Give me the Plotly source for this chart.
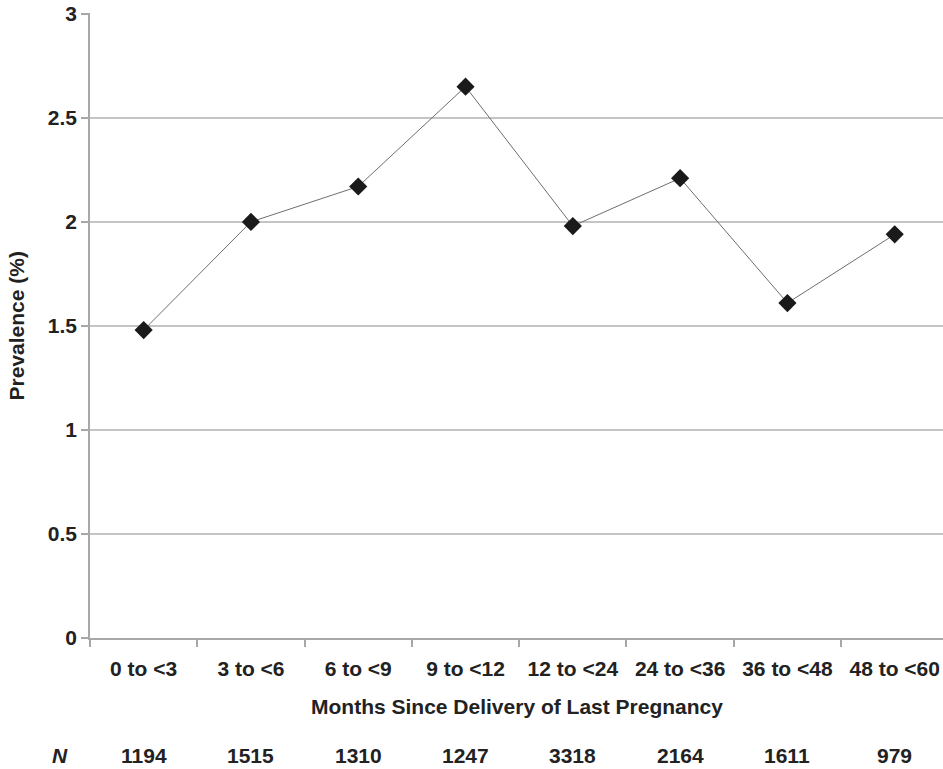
import plotly.graph_objects as go

categories = ["0 to <3", "3 to <6", "6 to <9", "9 to <12", "12 to <24", "24 to <36", "36 to <48", "48 to <60"]
prevalence = [1.48, 2.00, 2.17, 2.65, 1.98, 2.21, 1.61, 1.94]
n_values = [1194, 1515, 1310, 1247, 3318, 2164, 1611, 979]
y_ticks = [0, 0.5, 1, 1.5, 2, 2.5, 3]
y_tick_text = ["0", "0.5", "1", "1.5", "2", "2.5", "3"]

FONT = "Liberation Sans, Arial, sans-serif"
TXT = "#222222"
FS = 21

fig = go.Figure()
fig.add_trace(go.Scatter(
    x=categories, y=prevalence,
    mode="lines+markers",
    line=dict(color="#6e6e6e", width=1),
    marker=dict(symbol="diamond", size=14, color="#1a1a1a"),
    showlegend=False, hoverinfo="skip",
))

annotations = []
for c, n in zip(categories, n_values):
    annotations.append(dict(
        x=c, y=-0.1872, xref="x", yref="paper", text=f"<b>{n}</b>",
        showarrow=False, font=dict(family=FONT, size=FS, color=TXT),
        xanchor="center", yanchor="middle",
    ))
annotations.append(dict(
    x=-0.035, y=-0.1872, xref="paper", yref="paper", text="<b><i>N</i></b>",
    showarrow=False, font=dict(family=FONT, size=FS, color=TXT),
    xanchor="center", yanchor="middle",
))
annotations.append(dict(
    x=0.5, y=-0.1088, xref="paper", yref="paper",
    text="<b>Months Since Delivery of Last Pregnancy</b>",
    showarrow=False, font=dict(family=FONT, size=FS, color=TXT),
    xanchor="center", yanchor="middle",
))
annotations.append(dict(
    x=-0.0856, y=0.5, xref="paper", yref="paper",
    text="<b>Prevalence (%)</b>", textangle=-90,
    showarrow=False, font=dict(family=FONT, size=FS, color=TXT),
    xanchor="center", yanchor="middle",
))

fig.update_layout(
    width=943, height=769,
    margin=dict(l=90, r=0, t=13, b=131),
    plot_bgcolor="white", paper_bgcolor="white",
    font=dict(family=FONT, color=TXT),
    annotations=annotations,
    hovermode=False,
    xaxis=dict(
        type="category",
        ticktext=[f"<b>{c}</b>" for c in categories], tickvals=categories,
        range=[-0.5, 7.45],
        showgrid=False, zeroline=False, automargin=False,
        showline=True, linecolor="#a8a8a8", linewidth=1.5,
        ticks="outside", ticklen=7, tickcolor="#a8a8a8", tickwidth=1.5,
        tickson="boundaries",
        tickfont=dict(family=FONT, size=FS, color=TXT),
        ticklabelstandoff=11, ticklabeloverflow="allow",
    ),
    yaxis=dict(
        range=[0, 3.004], tickmode="array", tickvals=y_ticks,
        ticktext=[f"<b>{t}</b>" for t in y_tick_text],
        showgrid=True, gridcolor="#c4c4c4", gridwidth=1.5,
        zeroline=False, automargin=False,
        showline=True, linecolor="#a8a8a8", linewidth=1.5,
        ticks="outside", ticklen=7, tickcolor="#a8a8a8", tickwidth=1.5,
        tickfont=dict(family=FONT, size=FS, color=TXT),
        ticklabeloverflow="allow",
    ),
)

fig.write_html(
    "out.html",
    config={"displayModeBar": False},
    post_script="document.body.style.margin='0';document.body.style.overflow='hidden';",
)
